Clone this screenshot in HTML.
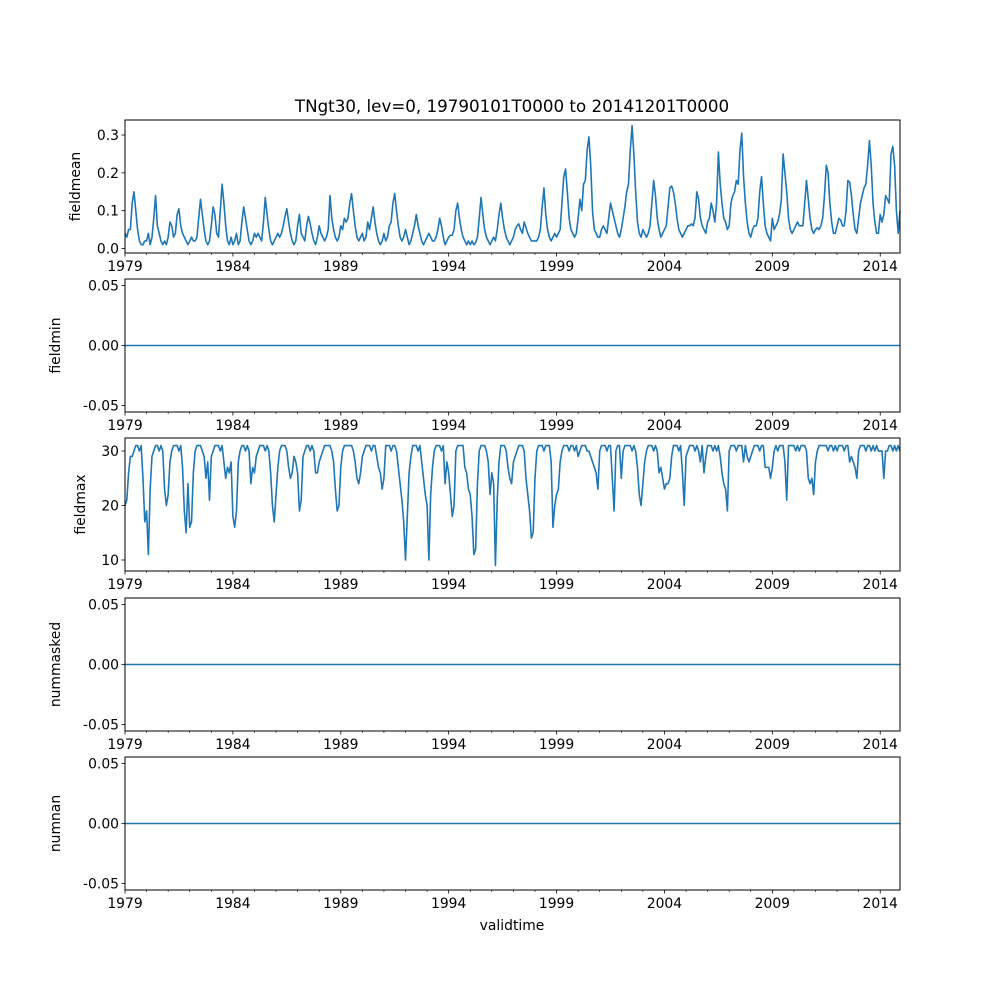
<!DOCTYPE html>
<html><head><meta charset="utf-8"><style>
body{margin:0;background:#fff}
svg{display:block;font-family:"DejaVu Sans","Liberation Sans",sans-serif}
</style></head><body>
<svg id="fig" width="1000" height="1000" viewBox="0 0 1000 1000">
<text x="512" y="112" font-size="16.7" text-anchor="middle">TNgt30, lev=0, 19790101T0000 to 20141201T0000</text>
<text x="512" y="930" font-size="13.9" text-anchor="middle">validtime</text>
</svg>
<script>
const startYear = 1979;
const fieldmeanData = [
[.04,.03,.05,.05,.12,.15,.10,.05,.02,.01,.01,.02],
[.02,.04,.01,.03,.08,.14,.06,.04,.02,.01,.02,.01],
[.03,.07,.06,.03,.04,.09,.105,.06,.04,.03,.02,.01],
[.02,.03,.02,.02,.03,.08,.13,.09,.05,.02,.01,.02],
[.06,.11,.09,.04,.03,.10,.17,.12,.06,.02,.01,.03],
[.01,.02,.04,.01,.02,.07,.11,.08,.05,.02,.01,.02],
[.04,.03,.04,.03,.02,.07,.135,.09,.05,.02,.01,.02],
[.03,.04,.03,.04,.06,.085,.105,.07,.04,.02,.01,.02],
[.06,.09,.04,.03,.02,.06,.085,.065,.04,.02,.01,.03],
[.06,.04,.03,.02,.03,.05,.14,.08,.05,.03,.02,.03],
[.06,.05,.08,.07,.08,.12,.145,.10,.06,.03,.02,.03],
[.04,.02,.03,.07,.05,.08,.11,.07,.04,.02,.01,.02],
[.04,.02,.03,.06,.07,.12,.145,.10,.06,.03,.02,.03],
[.05,.03,.01,.02,.04,.06,.09,.06,.04,.02,.01,.02],
[.03,.04,.03,.02,.02,.03,.05,.08,.06,.03,.01,.02],
[.03,.035,.035,.05,.10,.12,.08,.05,.03,.02,.01,.02],
[.01,.02,.01,.015,.03,.08,.135,.09,.05,.03,.02,.01],
[.02,.03,.02,.05,.09,.12,.08,.05,.03,.02,.01,.02],
[.03,.05,.06,.065,.05,.04,.07,.055,.04,.03,.02,.02],
[.02,.02,.03,.05,.11,.16,.09,.05,.03,.02,.03,.04],
[.03,.04,.05,.12,.19,.21,.15,.08,.05,.04,.03,.04],
[.08,.13,.10,.17,.18,.26,.295,.22,.10,.05,.04,.03],
[.03,.05,.06,.05,.04,.08,.12,.10,.08,.06,.04,.03],
[.05,.08,.11,.15,.17,.26,.325,.25,.15,.07,.04,.03],
[.05,.04,.03,.04,.06,.12,.18,.14,.08,.05,.03,.04],
[.05,.06,.11,.16,.165,.15,.12,.08,.05,.04,.03,.04],
[.05,.06,.06,.065,.06,.08,.15,.13,.08,.06,.05,.04],
[.07,.08,.12,.10,.07,.12,.255,.17,.12,.08,.07,.05],
[.06,.12,.14,.15,.18,.17,.26,.305,.19,.12,.07,.04],
[.03,.05,.06,.06,.08,.15,.19,.12,.06,.04,.03,.02],
[.08,.05,.06,.07,.09,.13,.25,.20,.15,.08,.05,.04],
[.05,.06,.07,.06,.06,.06,.12,.18,.13,.08,.05,.04],
[.05,.055,.05,.06,.08,.14,.22,.20,.12,.07,.04,.04],
[.06,.08,.075,.06,.06,.10,.18,.175,.14,.09,.05,.04],
[.08,.12,.14,.16,.17,.22,.285,.22,.12,.07,.04,.04],
[.09,.07,.09,.14,.13,.12,.25,.27,.22,.10,.04,.10]
];
const fieldmaxData = [
[20,21,26,29,29,30,31,31,30,31,25,17],
[19,11,23,29,30,31,31,30,31,30,23,20],
[22,28,30,31,31,31,30,31,27,19,15,24],
[16,17,26,30,31,31,31,30,29,25,28,21],
[29,30,31,31,31,30,31,28,25,27,26,28],
[18,16,19,28,30,31,31,30,31,30,24,27],
[26,29,30,31,31,31,30,31,30,26,20,17],
[22,27,30,31,31,31,30,27,25,26,29,28],
[26,19,21,29,30,31,31,30,31,30,26,26],
[28,29,30,31,31,31,31,30,28,23,19,20],
[27,30,31,31,31,31,31,30,28,25,24,26],
[29,30,31,31,31,30,31,31,29,27,26,23],
[25,31,31,31,30,31,31,30,27,24,21,17],
[10,18,26,29,31,31,31,30,31,28,25,22],
[20,10,22,27,30,31,31,31,30,31,24,28],
[26,22,18,20,30,31,31,31,31,27,26,23],
[22,18,11,12,24,30,31,31,31,30,28,22],
[26,24,9,21,28,31,31,31,30,27,25,24],
[28,29,30,31,31,31,30,25,22,19,14,15],
[25,30,31,31,31,30,31,31,31,28,16,20],
[22,23,28,30,31,31,31,30,31,31,30,31],
[29,30,31,31,31,30,30,29,28,27,26,23],
[30,31,31,31,30,31,31,25,19,30,31,31],
[25,30,31,31,31,31,30,31,30,27,22,20],
[24,28,30,31,31,31,30,31,30,26,27,25],
[23,24,24,25,29,31,31,31,30,31,26,20],
[29,30,31,31,31,30,31,30,28,31,26,29],
[31,31,31,30,31,30,31,29,26,24,23,19],
[30,31,31,31,30,31,31,31,28,31,29,28],
[29,30,31,31,31,30,31,31,27,27,27,25],
[27,30,31,30,31,31,31,28,21,31,31,31],
[31,30,31,30,31,31,31,30,25,24,25,22],
[28,30,31,31,31,31,31,30,31,31,30,31],
[30,31,31,31,30,31,31,28,29,28,27,25],
[30,31,31,31,30,31,31,30,31,30,31,30],
[30,30,25,30,30,31,31,30,31,30,31,30]
];
const zeroSeriesValue = 0;
const xTickYears = [1979,1984,1989,1994,1999,2004,2009,2014];
const meanTicks = [0.0,0.1,0.2,0.3];
const maxTicks = [10,20,30];
const zeroTicks = [-0.05,0.00,0.05];

const NS = "http://www.w3.org/2000/svg";
const svg = document.getElementById('fig');
const X0 = 125, X1 = 900;
const tStart = 1979, tEnd = 2014 + 11/12;
function xScale(t){ return X0 + (t - tStart) / (tEnd - tStart) * (X1 - X0); }
function mk(tag, attrs){ const e = document.createElementNS(NS, tag); for (const k in attrs) e.setAttribute(k, attrs[k]); return e; }

const panels = [
  {name:'fieldmean', top:120, ymin:-0.0119, ymax:0.3397, ticks:meanTicks, fmt:v=>v.toFixed(1), labelX:80, data:fieldmeanData},
  {name:'fieldmin', top:279, ymin:-0.0555, ymax:0.0555, ticks:zeroTicks, fmt:v=>v.toFixed(2), labelX:60, data:null},
  {name:'fieldmax', top:438, ymin:7.98, ymax:32.39, ticks:maxTicks, fmt:v=>String(v), labelX:85, data:fieldmaxData},
  {name:'nummasked', top:598, ymin:-0.0555, ymax:0.0555, ticks:zeroTicks, fmt:v=>v.toFixed(2), labelX:60, data:null},
  {name:'numnan', top:757, ymin:-0.0555, ymax:0.0555, ticks:zeroTicks, fmt:v=>v.toFixed(2), labelX:60, data:null}
];
const H = 133;

panels.forEach(p => {
  const g = mk('g', {});
  
  
  svg.appendChild(g);
  const yScale = v => p.top + H - (v - p.ymin) / (p.ymax - p.ymin) * H;
  const pts = [];
  for (let y = 0; y < 36; y++) for (let m = 0; m < 12; m++) {
    const v = p.data ? p.data[y][m] : zeroSeriesValue;
    pts.push(xScale(startYear + y + m/12).toFixed(2) + ',' + yScale(v).toFixed(2));
  }
  const line = mk('polyline', {points: pts.join(' '), fill:'none', stroke:'#1f77b4', 'stroke-width':'1.6', 'stroke-linejoin':'round'});
  
  
  g.appendChild(line);
  const frame = mk('rect', {x:X0, y:p.top, width:X1-X0, height:H, fill:'none', stroke:'#000', 'stroke-width':'1'});
  
  
  g.appendChild(frame);
  p.ticks.forEach(v => {
    const yy = yScale(v);
    g.appendChild(mk('line', {x1:X0-3.5, x2:X0, y1:yy, y2:yy, stroke:'#000', 'stroke-width':'0.8'}));
    const t = mk('text', {x:X0-6, y:yy+5, 'font-size':'13.9', 'text-anchor':'end'});
    
    
    t.textContent = p.fmt(v);
    g.appendChild(t);
  });
  for (let yr = 1979; yr <= 2014; yr++) {
    const xx = xScale(yr);
    const major = xTickYears.includes(yr);
    g.appendChild(mk('line', {x1:xx, x2:xx, y1:p.top+H, y2:p.top+H+(major?3.5:2), stroke:'#000', 'stroke-width':major?'0.8':'0.6'}));
  }
  xTickYears.forEach(yr => {
    const t = mk('text', {x:xScale(yr), y:p.top+H+18, 'font-size':'13.9', 'text-anchor':'middle'});
    
    
    t.textContent = yr;
    g.appendChild(t);
  });
  const cy = p.top + H/2;
  const lab = mk('text', {x:p.labelX, y:cy, 'font-size':'13.9', 'text-anchor':'middle', transform:'rotate(-90 '+p.labelX+' '+cy+')'});
  
  
  lab.textContent = p.name;
  g.appendChild(lab);
});
</script>
</body></html>
